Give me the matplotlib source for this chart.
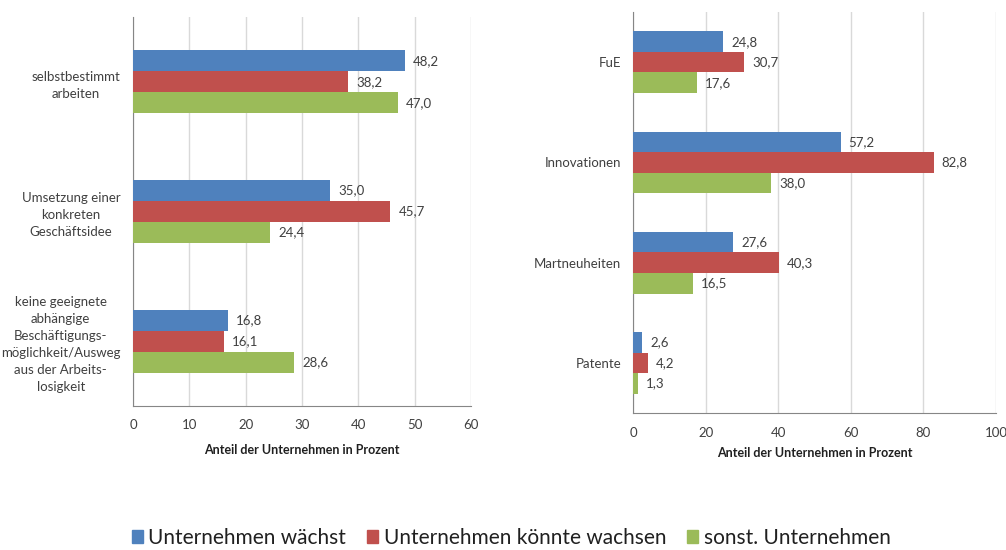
import matplotlib
matplotlib.use("Agg")
import matplotlib.pyplot as plt
import matplotlib.patches as mpatches
import numpy as np

plt.rcParams['font.family'] = ['Lato', 'DejaVu Sans']

# ---------------- data ----------------
series_names = ["Unternehmen wächst", "Unternehmen könnte wachsen", "sonst. Unternehmen"]
series_colors = ["#4F81BD", "#C0504D", "#9BBB59"]

left_cats = ["selbstbestimmt\narbeiten",
             "Umsetzung einer\nkonkreten\nGeschäftsidee",
             "keine geeignete\nabhängige\nBeschäftigungs-\nmöglichkeit/Ausweg\naus der Arbeits-\nlosigkeit"]
left_grow = [48.2, 35.0, 16.8]
left_could = [38.2, 45.7, 16.1]
left_other = [47.0, 24.4, 28.6]
left_ticks = [0, 10, 20, 30, 40, 50, 60]

right_cats = ["FuE", "Innovationen", "Martneuheiten", "Patente"]
right_grow = [24.8, 57.2, 27.6, 2.6]
right_could = [30.7, 82.8, 40.3, 4.2]
right_other = [17.6, 38.0, 16.5, 1.3]
right_ticks = [0, 20, 40, 60, 80, 100]

xlabel = "Anteil der Unternehmen in Prozent"
txt_c = "#404040"
grid_c = "#D9D9D9"
axis_c = "#868686"

fig = plt.figure(figsize=(10.06, 5.5), dpi=100, facecolor="white")


def draw_panel(ax, cats, vals, ticks, bar_h, label_off, ypad, xpad, lpad):
    y = np.arange(len(cats))
    for i, (v, c) in enumerate(zip(vals, series_colors)):
        pos = y + (i - 1) * bar_h
        ax.barh(pos, v, height=bar_h, color=c, zorder=3)
        for p, val in zip(pos, v):
            ax.text(val + label_off, p, f"{val:.1f}".replace(".", ","),
                    va="center", ha="left", fontsize=9.5, color=txt_c, zorder=4)
    ax.set_ylim(len(cats) - 0.5, -0.5)
    ax.set_xlim(ticks[0], ticks[-1])
    ax.set_xticks(ticks)
    ax.set_yticks(y)
    ax.set_yticklabels(cats, fontsize=9.5, color=txt_c, multialignment="center",
                       linespacing=1.5)
    ax.tick_params(axis="both", length=0, labelsize=9.5, colors=txt_c)
    ax.tick_params(axis="x", pad=xpad)
    ax.tick_params(axis="y", pad=ypad)
    ax.grid(axis="x", color=grid_c, lw=1, zorder=0)
    for s in ["top", "right"]:
        ax.spines[s].set_visible(False)
    ax.spines["left"].set_color(axis_c)
    ax.spines["bottom"].set_color(axis_c)
    ax.set_xlabel(xlabel, fontsize=9, fontweight="bold", color="#202020", labelpad=lpad)


ax1 = fig.add_axes([0.1322, 0.2618, 0.336, 0.707])
draw_panel(ax1, left_cats, [left_grow, left_could, left_other], left_ticks, 0.162, 1.4,
           9, 9, 10)

ax2 = fig.add_axes([0.6292, 0.249, 0.3608, 0.729])
draw_panel(ax2, right_cats, [right_grow, right_could, right_other], right_ticks, 0.205, 2.2,
           8.5, 10, 6)

handles = [mpatches.Patch(color=c, label=n) for n, c in zip(series_names, series_colors)]
fig.legend(handles=handles, loc="center", bbox_to_anchor=(0.508, 0.022), ncol=3,
           frameon=False, fontsize=15, handlelength=0.55, handleheight=0.55,
           handletextpad=0.25, columnspacing=1.0, labelcolor="#202020")

fig.savefig("out.png", dpi=100, facecolor="white")
